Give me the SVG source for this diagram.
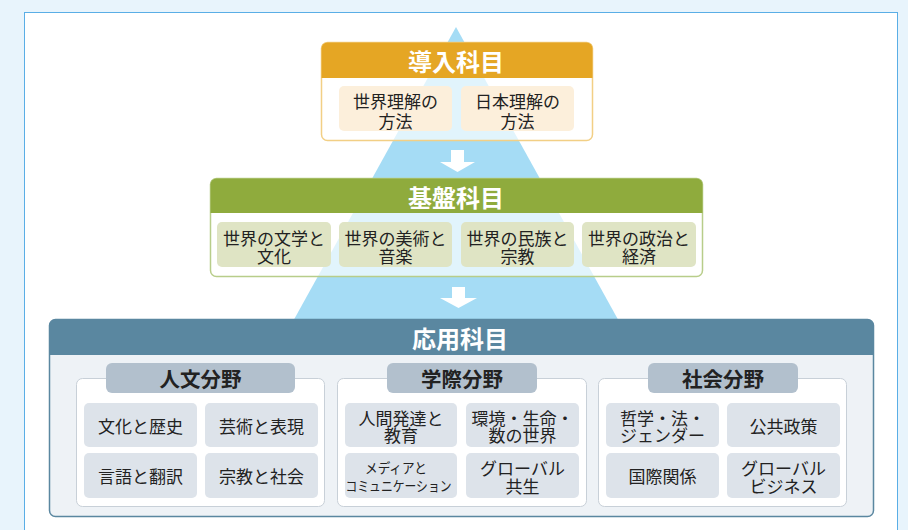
<svg xmlns="http://www.w3.org/2000/svg" width="908" height="530" viewBox="0 0 908 530">
<style>
text{font-family:"Noto Sans CJK JP","Noto Sans",sans-serif;text-anchor:middle;dominant-baseline:central;fill:#222}
.title{font-size:24px;font-weight:700;fill:#fff}
.cell{font-size:17px}
.tab{font-size:20.5px;font-weight:700;fill:#222}
.ic{fill:#fcefdb}
.bc{fill:#dfe4c4}
.ac{fill:#dde3ea}
.panel{fill:#fff;stroke:#c8d0d8;stroke-width:1}
.tabbg{fill:#b2c0cd}
.arrow{fill:#fff}
</style>
<rect x="0" y="0" width="908" height="530" fill="#e8f4fc"/>
<rect x="24.5" y="12.5" width="873" height="530" fill="#fff" stroke="#5aaee6" stroke-width="1"/>
<polygon points="456,27 276,352 636,352" fill="#a5dcf5"/>

<g id="connectors">
<polygon class="arrow" points="451,150 464,150 464,162 475,162 457.5,172 440,162 451,162"/>
<polygon class="arrow" points="452,287 465,287 465,298 477,298 458.5,308 440,298 452,298"/>
</g>

<g id="intro">
<rect x="321.5" y="42.5" width="271" height="98" rx="6" fill="#fff" fill-opacity="0.67" stroke="#f2cf85" stroke-width="1.5"/>
<path d="M321.5,78 V48.5 a6,6 0 0 1 6,-6 H586.5 a6,6 0 0 1 6,6 V78 Z" fill="#e5a624"/>
<text class="title" x="456" y="60">導入科目</text>
<rect class="ic" x="339" y="86" width="113" height="45" rx="5"/>
<text class="cell" x="395.5" y="100"><tspan x="395.5">世界理解の</tspan><tspan x="395.5" dy="20">方法</tspan></text>
<rect class="ic" x="461" y="86" width="113" height="45" rx="5"/>
<text class="cell" x="517.5" y="100"><tspan x="517.5">日本理解の</tspan><tspan x="517.5" dy="20">方法</tspan></text>
</g>

<g id="basic">
<rect x="210.5" y="178.5" width="492" height="98" rx="6" fill="#fff" fill-opacity="0.67" stroke="#b8cd8a" stroke-width="1.5"/>
<path d="M210.5,213 V184.5 a6,6 0 0 1 6,-6 H696.5 a6,6 0 0 1 6,6 V213 Z" fill="#8fab3d"/>
<text class="title" x="456" y="196">基盤科目</text>
<rect class="bc" x="217" y="222" width="114" height="45" rx="5"/>
<text class="cell" x="274" y="236.5"><tspan x="274">世界の文学と</tspan><tspan x="274" dy="18.5">文化</tspan></text>
<rect class="bc" x="339" y="222" width="113" height="45" rx="5"/>
<text class="cell" x="395.5" y="236.5"><tspan x="395.5">世界の美術と</tspan><tspan x="395.5" dy="18.5">音楽</tspan></text>
<rect class="bc" x="461" y="222" width="113" height="45" rx="5"/>
<text class="cell" x="517.5" y="236.5"><tspan x="517.5">世界の民族と</tspan><tspan x="517.5" dy="18.5">宗教</tspan></text>
<rect class="bc" x="582" y="222" width="114" height="45" rx="5"/>
<text class="cell" x="639" y="236.5"><tspan x="639">世界の政治と</tspan><tspan x="639" dy="18.5">経済</tspan></text>
</g>

<g id="applied">
<rect x="49.5" y="319.5" width="824" height="197" rx="6" fill="#eef2f6" stroke="#5a87a0" stroke-width="1.5"/>
<path d="M49.5,355 V325.5 a6,6 0 0 1 6,-6 H867.5 a6,6 0 0 1 6,6 V355 Z" fill="#5a87a0"/>
<text class="title" x="460" y="337">応用科目</text>
</g>

<g id="humanities">
<rect class="panel" x="76.5" y="378.5" width="248" height="128" rx="6"/>
<rect class="tabbg" x="106" y="363" width="189" height="30" rx="6"/>
<text class="tab" x="200.5" y="378">人文分野</text>
<rect class="ac" x="84" y="403" width="113" height="44" rx="5"/>
<text class="cell" x="140.5" y="425">文化と歴史</text>
<rect class="ac" x="205" y="403" width="113" height="44" rx="5"/>
<text class="cell" x="261.5" y="425">芸術と表現</text>
<rect class="ac" x="84" y="453" width="113" height="45" rx="5"/>
<text class="cell" x="140.5" y="475">言語と翻訳</text>
<rect class="ac" x="205" y="453" width="113" height="45" rx="5"/>
<text class="cell" x="261.5" y="475">宗教と社会</text>
</g>

<g id="interdisciplinary">
<rect class="panel" x="337.5" y="378.5" width="249" height="128" rx="6"/>
<rect class="tabbg" x="387" y="363" width="150" height="30" rx="6"/>
<text class="tab" x="462" y="378">学際分野</text>
<rect class="ac" x="345" y="403" width="112" height="44" rx="5"/>
<text class="cell" x="401" y="417"><tspan x="401">人間発達と</tspan><tspan x="401" dy="17">教育</tspan></text>
<rect class="ac" x="466" y="403" width="113" height="44" rx="5"/>
<text class="cell" x="522.5" y="417"><tspan x="522.5">環境・生命・</tspan><tspan x="522.5" dy="17">数の世界</tspan></text>
<rect class="ac" x="345" y="453" width="112" height="45" rx="5"/>
<text x="396" y="467" font-size="14"><tspan x="396" textLength="62" lengthAdjust="spacingAndGlyphs">メディアと</tspan><tspan x="398.5" dy="18" textLength="106" lengthAdjust="spacingAndGlyphs">コミュニケーション</tspan></text>
<rect class="ac" x="466" y="453" width="113" height="45" rx="5"/>
<text class="cell" x="522.5" y="467"><tspan x="522.5">グローバル</tspan><tspan x="522.5" dy="18">共生</tspan></text>
</g>

<g id="social">
<rect class="panel" x="598.5" y="378.5" width="248" height="128" rx="6"/>
<rect class="tabbg" x="648" y="363" width="150" height="30" rx="6"/>
<text class="tab" x="723" y="378">社会分野</text>
<rect class="ac" x="606" y="403" width="113" height="44" rx="5"/>
<text class="cell" x="662.5" y="417"><tspan x="662.5">哲学・法・</tspan><tspan x="662.5" dy="17">ジェンダー</tspan></text>
<rect class="ac" x="727" y="403" width="113" height="44" rx="5"/>
<text class="cell" x="783.5" y="425">公共政策</text>
<rect class="ac" x="606" y="453" width="113" height="45" rx="5"/>
<text class="cell" x="662.5" y="475">国際関係</text>
<rect class="ac" x="727" y="453" width="113" height="45" rx="5"/>
<text class="cell" x="783.5" y="467"><tspan x="783.5">グローバル</tspan><tspan x="783.5" dy="18">ビジネス</tspan></text>
</g>
</svg>
